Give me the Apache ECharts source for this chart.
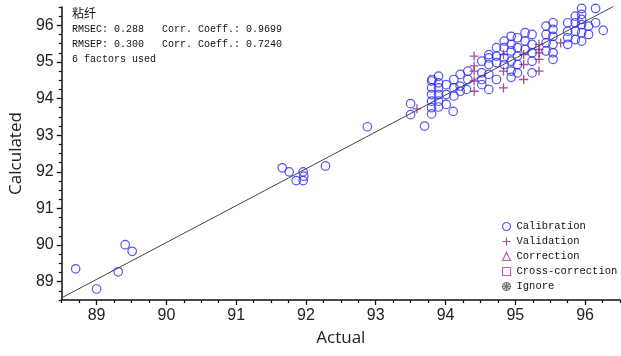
<!DOCTYPE html>
<html>
<head>
<meta charset="utf-8">
<title>Actual vs Calculated</title>
<script src="https://cdn.jsdelivr.net/npm/echarts@6/dist/echarts.min.js"></script>
<style>
    html, body { margin: 0; padding: 0; background: #fff; }
    #chart { width: 621px; height: 356px; }
</style>
</head>
<body>
<div id="chart"></div>
<script>
// 校正集 (Actual, Calculated)
const calibration = [
    [88.70, 89.35], [89.00, 88.80], [89.31, 89.27], [89.41, 90.01], [89.51, 89.83],
    [91.66, 92.11], [91.76, 92.00], [91.86, 91.76], [91.96, 92.00], [91.96, 91.76], [91.97, 91.88],
    [92.28, 92.16], [92.88, 93.23],
    [93.50, 93.86], [93.50, 93.56], [93.70, 93.25],
    [93.80, 94.48], [93.80, 94.29], [93.80, 94.11], [93.80, 93.93], [93.80, 93.75], [93.80, 93.58], [93.81, 94.52],
    [93.90, 94.61], [93.90, 94.43], [93.90, 94.29], [93.90, 94.11], [93.90, 93.93], [93.90, 93.77],
    [94.01, 94.38], [94.01, 94.11], [94.01, 93.84],
    [94.12, 94.52], [94.12, 94.29], [94.12, 94.07], [94.11, 93.65],
    [94.21, 94.66], [94.21, 94.34], [94.21, 94.20],
    [94.32, 94.75], [94.32, 94.52], [94.30, 94.25],
    [94.52, 95.02], [94.52, 94.70], [94.52, 94.52], [94.52, 94.38],
    [94.62, 95.20], [94.62, 95.11], [94.62, 94.93], [94.62, 94.66], [94.62, 94.25],
    [94.73, 95.39], [94.73, 95.16], [94.73, 94.98], [94.73, 94.52],
    [94.84, 95.57], [94.84, 95.39], [94.84, 95.11], [94.84, 94.93],
    [94.94, 95.70], [94.94, 95.48], [94.94, 95.30], [94.94, 95.02], [94.94, 94.75], [94.94, 94.58],
    [95.03, 95.66], [95.03, 95.39], [95.03, 95.16], [95.03, 94.93], [95.03, 94.70],
    [95.14, 95.80], [95.14, 95.57], [95.14, 95.34],
    [95.24, 95.75], [95.24, 95.48], [95.24, 95.25], [95.24, 95.02], [95.24, 94.70],
    [95.44, 95.98], [95.44, 95.75], [95.44, 95.52], [95.44, 95.30],
    [95.54, 96.07], [95.54, 95.89], [95.54, 95.70], [95.54, 95.48], [95.54, 95.25], [95.54, 95.07],
    [95.75, 96.07], [95.75, 95.84], [95.75, 95.66], [95.75, 95.48],
    [95.86, 96.25], [95.86, 96.07], [95.86, 95.84], [95.86, 95.61],
    [95.95, 96.46], [95.95, 96.30], [95.95, 96.16], [95.95, 96.02], [95.95, 95.80], [95.95, 95.57],
    [96.05, 95.98], [96.05, 95.75],
    [96.15, 96.46], [96.15, 96.07],
    [96.26, 95.86]
];

// 验证集
const validation = [
    [93.59, 93.72],
    [94.41, 95.16], [94.41, 94.89], [94.41, 94.75], [94.41, 94.48], [94.41, 94.20],
    [94.83, 95.20], [94.83, 94.75], [94.83, 94.29],
    [95.12, 95.20], [95.12, 94.93], [95.12, 94.52],
    [95.34, 95.48], [95.34, 95.34], [95.34, 95.25], [95.34, 95.07], [95.34, 94.75],
    [95.65, 95.52]
];

// 拟合线端点
const fitLine = [[88.50, 88.56], [96.45, 96.56]];

// 坐标轴
const axisMin = 88.5;
const axisMax = 96.5;
const majorTicks = [89, 90, 91, 92, 93, 94, 95, 96];
const minorTicks = [88.5, 88.75, 89.25, 89.5, 89.75, 90.25, 90.5, 90.75, 91.25, 91.5, 91.75,
    92.25, 92.5, 92.75, 93.25, 93.5, 93.75, 94.25, 94.5, 94.75, 95.25, 95.5, 95.75, 96.25, 96.5];

const legendNames = ['Calibration', 'Validation', 'Correction', 'Cross-correction', 'Ignore'];
const infoLines = ['RMSEC: 0.288   Corr. Coeff.: 0.9699', 'RMSEP: 0.300   Corr. Coeff.: 0.7240', '6 factors used'];

const BLUE = '#2b2bef';
const PURPLE = '#8b2479';
const LIGHT_PURPLE = '#9c3a9c';
const PLUS = 'path://M5,0L5,10M0,5L10,5';
const IGNORE = 'path://M5,0A5,5,0,1,1,4.99,0ZM1.6,1.6L8.4,8.4M8.4,1.6L1.6,8.4M5,0L5,10M0,5L10,5';
const MONO = '"Liberation Mono", "DejaVu Sans Mono", monospace';

const chart = echarts.init(document.getElementById('chart'));

function majorAxis(name) {
    return {
        type: 'value',
        min: axisMin,
        max: axisMax,
        name: name,
        nameLocation: 'middle',
        nameGap: 30,
        nameTextStyle: { fontFamily: '"Open Sans", "Liberation Sans", sans-serif', fontSize: 17, color: '#222' },
        axisLine: { show: true, onZero: false, lineStyle: { color: '#111', width: 1.5 } },
        axisTick: { show: true, customValues: majorTicks, length: 5, lineStyle: { color: '#111', width: 1.3 } },
        axisLabel: { customValues: majorTicks, fontFamily: '"Liberation Sans", Arial, sans-serif', fontSize: 16, color: '#222', margin: 8 },
        splitLine: { show: false }
    };
}

function minorAxis(pos) {
    return {
        type: 'value',
        min: axisMin,
        max: axisMax,
        position: pos,
        axisLine: { show: false, onZero: false },
        axisTick: { show: true, customValues: minorTicks, length: 3, lineStyle: { color: '#111', width: 1.2 } },
        axisLabel: { show: false },
        splitLine: { show: false }
    };
}

// 图例项: 空心图标
function legendItem(name, icon, color) {
    return {
        name: name,
        icon: icon,
        itemStyle: { color: 'none', borderColor: color, borderWidth: 1.2 }
    };
}

const option = {
    animation: false,
    grid: { left: 53, right: 1, top: 7, bottom: 56 },
    xAxis: [majorAxis('Actual'), minorAxis('bottom')],
    yAxis: [majorAxis('Calculated'), minorAxis('left')],
    legend: {
        orient: 'vertical',
        left: 495,
        top: 215,
        itemWidth: 8,
        itemHeight: 8,
        itemGap: 2,
        selectedMode: false,
        textStyle: { fontFamily: MONO, fontSize: 10.5, color: '#111', padding: [0, 0, 0, 1] },
        data: [
            legendItem(legendNames[0], 'circle', BLUE),
            legendItem(legendNames[1], PLUS, PURPLE),
            legendItem(legendNames[2], 'triangle', LIGHT_PURPLE),
            legendItem(legendNames[3], 'rect', LIGHT_PURPLE),
            legendItem(legendNames[4], IGNORE, '#555')
        ]
    },
    graphic: [
        { type: 'text', left: 72, top: 7, style: { text: '粘纤', font: '12px "Noto Sans CJK SC"', fill: '#111' } },
        { type: 'text', left: 72, top: 24, style: { text: infoLines[0], font: '10px ' + MONO, fill: '#111' } },
        { type: 'text', left: 72, top: 39, style: { text: infoLines[1], font: '10px ' + MONO, fill: '#111' } },
        { type: 'text', left: 72, top: 54, style: { text: infoLines[2], font: '10px ' + MONO, fill: '#111' } }
    ],
    series: [
        {
            name: 'fit',
            type: 'line',
            data: fitLine,
            symbol: 'none',
            silent: true,
            lineStyle: { color: '#444', width: 1 },
            z: 1
        },
        {
            name: 'Calibration',
            type: 'scatter',
            data: calibration,
            symbol: 'circle',
            symbolSize: 8.5,
            itemStyle: { color: 'transparent', borderColor: BLUE, borderWidth: 1.2 },
            z: 3
        },
        {
            name: 'Validation',
            type: 'scatter',
            data: validation,
            symbol: PLUS,
            symbolSize: 9,
            itemStyle: { color: 'transparent', borderColor: PURPLE, borderWidth: 1.3 },
            z: 2
        },
        {
            name: 'Correction',
            type: 'scatter',
            data: [],
            symbol: 'triangle',
            itemStyle: { color: 'transparent', borderColor: LIGHT_PURPLE, borderWidth: 1.2 }
        },
        {
            name: 'Cross-correction',
            type: 'scatter',
            data: [],
            symbol: 'rect',
            itemStyle: { color: 'transparent', borderColor: LIGHT_PURPLE, borderWidth: 1.2 }
        },
        {
            name: 'Ignore',
            type: 'scatter',
            data: [],
            symbol: IGNORE,
            itemStyle: { color: 'transparent', borderColor: '#555', borderWidth: 1 }
        }
    ]
};

chart.setOption(option);
window.addEventListener('resize', () => chart.resize());
</script>
</body>
</html>
